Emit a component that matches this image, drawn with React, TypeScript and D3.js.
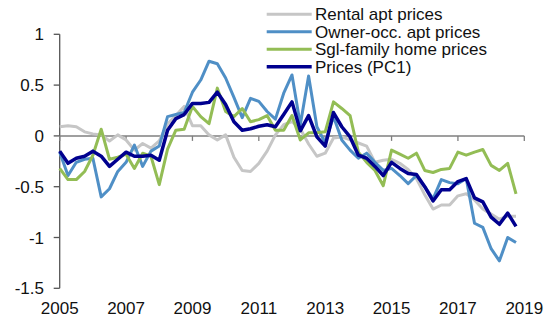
import React from "react";
import * as d3 from "d3";

const startYear = 2005;
const rental = [0.09, 0.1, 0.09, 0.04, 0.02, 0.01, -0.05, 0.01, -0.04, -0.14, -0.075, -0.12, -0.05, 0.12, 0.2, 0.29, 0.1, 0.1, 0.01, -0.04, 0.01, -0.21, -0.34, -0.35, -0.27, -0.15, 0.01, 0.11, 0.14, 0.07, -0.08, -0.2, -0.17, -0.02, -0.01, -0.04, -0.07, -0.1, -0.26, -0.24, -0.23, -0.27, -0.33, -0.42, -0.58, -0.72, -0.68, -0.68, -0.59, -0.57, -0.63, -0.72, -0.77, -0.82, -0.79, -0.79];
const owner = [-0.16, -0.39, -0.26, -0.23, -0.22, -0.6, -0.52, -0.35, -0.26, -0.09, -0.3, -0.15, -0.1, 0.19, 0.21, 0.23, 0.43, 0.55, 0.735, 0.71, 0.57, 0.38, 0.18, 0.37, 0.34, 0.24, 0.165, 0.42, 0.6, 0.11, 0.59, 0.09, -0.07, 0.19, -0.04, -0.14, -0.22, -0.17, -0.26, -0.34, -0.32, -0.39, -0.47, -0.39, -0.5, -0.62, -0.43, -0.46, -0.47, -0.42, -0.86, -0.9, -1.11, -1.23, -1.0, -1.05];
const sglFamily = [-0.32, -0.43, -0.43, -0.35, -0.19, 0.066, -0.23, -0.21, -0.18, -0.32, -0.17, -0.2, -0.48, -0.13, 0.056, 0.065, 0.29, 0.19, 0.12, 0.47, 0.24, 0.19, 0.27, 0.14, 0.16, 0.2, 0.056, 0.056, 0.2, -0.04, 0.03, 0.03, 0.04, 0.335, 0.27, 0.2, -0.16, -0.26, -0.34, -0.49, -0.14, -0.18, -0.22, -0.17, -0.34, -0.36, -0.33, -0.32, -0.16, -0.19, -0.16, -0.134, -0.29, -0.34, -0.27, -0.57];
const pc1 = [-0.15, -0.27, -0.22, -0.2, -0.15, -0.2, -0.3, -0.23, -0.16, -0.2, -0.2, -0.19, -0.24, 0.056, 0.17, 0.21, 0.32, 0.32, 0.33, 0.43, 0.31, 0.14, 0.056, 0.07, 0.095, 0.11, 0.09, 0.21, 0.335, 0.05, 0.2, -0.01, -0.1, 0.23, 0.09, -0.01, -0.19, -0.22, -0.3, -0.39, -0.26, -0.32, -0.37, -0.38, -0.5, -0.64, -0.53, -0.53, -0.45, -0.42, -0.61, -0.65, -0.8, -0.87, -0.76, -0.89];

const seriesNames = ["Rental apt prices", "Owner-occ. apt prices", "Sgl-family home prices", "Prices (PC1)"];
const xTicks = [2005, 2007, 2009, 2011, 2013, 2015, 2017, 2019];
const yTicks = [1, 0.5, 0, -0.5, -1, -1.5];

export default function App() {
  const W = 550, H = 332;
  const x = d3.scaleLinear().domain([2005, 2019]).range([59.7, 524.3]);
  const y = d3.scaleLinear().domain([-1.5, 1]).range([288.3, 34.3]);
  const series = [
    { name: seriesNames[0], data: rental, color: "#c6c6c6", w: 3 },
    { name: seriesNames[1], data: owner, color: "#4f8fc6", w: 3 },
    { name: seriesNames[2], data: sglFamily, color: "#93bd55", w: 3 },
    { name: seriesNames[3], data: pc1, color: "#00008f", w: 3.5 },
  ];
  const line = d3
    .line<number>()
    .x((_, i) => x(startYear + i / 4))
    .y((d) => y(d));
  const font = "'Liberation Sans', Arial, sans-serif";
  const axisColor = "#7f7f7f";
  return (
    <svg width={W} height={H} style={{ position: "absolute", left: 0, top: 0, background: "#fff" }} fontFamily={font}>
      {/* y axis */}
      <line x1={x(2005)} x2={x(2005)} y1={y(1)} y2={y(-1.5)} stroke="#555" strokeWidth={1.3} />
      {yTicks.map((t) => (
        <g key={t}>
          <line x1={x(2005) - 6} x2={x(2005)} y1={y(t)} y2={y(t)} stroke="#555" strokeWidth={1.3} />
          <text x={44} y={y(t) + 6} textAnchor="end" fontSize={17} fill="#111">
            {t === 0 ? "0" : String(t)}
          </text>
        </g>
      ))}
      {/* zero line */}
      <line x1={x(2005)} x2={x(2019)} y1={y(0)} y2={y(0)} stroke={axisColor} strokeWidth={1.5} />
      {xTicks.map((t) => (
        <g key={t}>
          <line x1={x(t)} x2={x(t)} y1={y(0)} y2={y(0) + 5} stroke={axisColor} strokeWidth={1.3} />
          <text x={x(t)} y={314.3} textAnchor="middle" fontSize={17} fill="#111">
            {t}
          </text>
        </g>
      ))}
      {series.map((s) => (
        <path key={s.name} d={line(s.data) || ""} fill="none" stroke={s.color} strokeWidth={s.w} strokeLinejoin="round" />
      ))}
      {/* legend */}
      {series.map((s, i) => {
        const by = 20 + i * 17.55;
        return (
          <g key={"lg" + s.name}>
            <line x1={266.7} x2={311.7} y1={by - 5.8} y2={by - 5.8} stroke={s.color} strokeWidth={s.w} />
            <text x={315} y={by} fontSize={17} fill="#111">
              {s.name}
            </text>
          </g>
        );
      })}
    </svg>
  );
}
